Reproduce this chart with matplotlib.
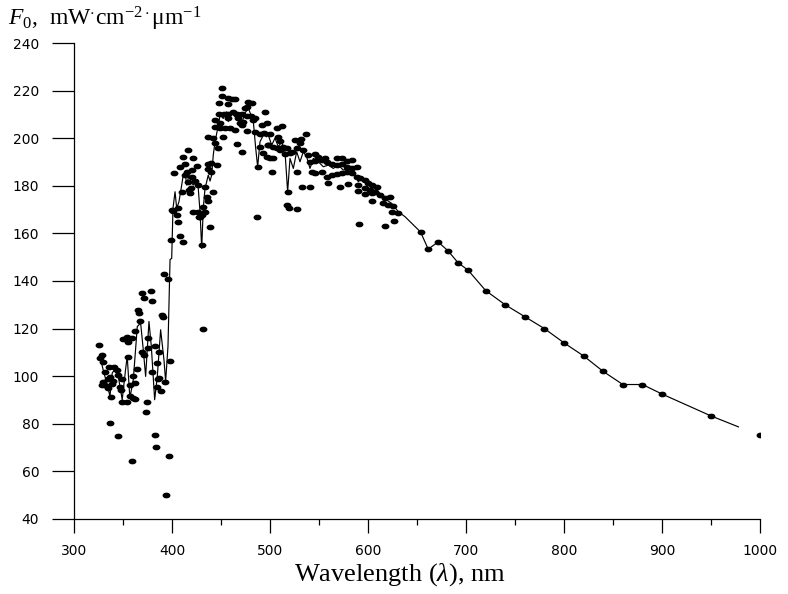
import numpy as np
import matplotlib
matplotlib.use("Agg")
import matplotlib.pyplot as plt
from matplotlib.markers import MarkerStyle
from matplotlib.transforms import Affine2D
from matplotlib.ticker import MultipleLocator

plt.rcParams['mathtext.fontset'] = 'custom'
plt.rcParams['mathtext.rm'] = 'Liberation Serif'
plt.rcParams['mathtext.it'] = 'Liberation Serif:italic'

# measured points (wavelength nm, F0)
dot_wl = [
    392, 395.6, 369.7, 378.6, 371.7, 379.6, 365.6, 366.7, 390, 391, 367.7, 362,
    326, 329, 327, 330, 350, 353.7, 355.4, 359.5, 375.2, 382.6, 375.8, 387,
    369, 371.7, 355.4, 398, 384.4, 364.6, 379.3, 335.7, 340.5, 343.5, 331.6,
    345.2, 336.7, 334.3, 348.6, 360.5, 387, 392.9, 330, 340.1, 339, 328.3,
    333.3, 335, 357, 362, 347, 348, 384.4, 386, 337.8, 357, 360.5, 362, 349.3,
    353.7, 388.4, 374.8, 373.5, 336.4, 344.6, 382.6, 383.7, 397, 358.8, 393.9,
    451.3, 451.3, 456.8, 460.9, 464.3, 448.3, 456.8, 477.9, 482, 474.5, 476.2,
    494.9, 448.3, 453.4, 457.4, 462.6, 466, 471.1, 476.2, 480.6, 457.5, 467.7,
    483, 484.7, 443.9, 449, 469.4, 471.1, 472.8, 491.5, 496.6, 443.9, 449,
    454.1, 459.2, 464.3, 476.2, 484.7, 489.8, 494.2, 436.4, 442.1, 452.3,
    443.9, 447.3, 466.4, 471.1, 489.8, 493.2, 497.6, 496.6, 487.4, 416.6,
    411.5, 421.7, 408.2, 413.3, 420.1, 425.2, 402.3, 415, 413.3, 420.1, 416.6,
    423.5, 426.8, 437, 439.8, 445.6, 437, 439.8, 433.7, 441.5, 435.4, 437,
    409.9, 418.4, 417.3, 419.4, 431.9, 433.7, 430.3, 427.9, 399.7, 401.3,
    406.4, 404.8, 405.8, 421.7, 426.8, 428.6, 438.8, 430.3, 399, 408.2, 411.5,
    486.4, 431.6,
    506.8, 511.9, 500, 508.5, 510.2, 536.4, 525.5, 531.6, 530.6, 498.3, 503.4,
    506.8, 510.2, 513.6, 517, 522.1, 527.2, 534, 539.1, 546, 549.3, 556.1,
    540.8, 546, 552.7, 557.9, 568, 573.1, 578.3, 584, 563, 568, 573.1, 578.3,
    583.4, 588.5, 500, 503.4, 515.3, 520.4, 527.2, 542.5, 545.9, 552.7, 557.9,
    563, 568, 573.1, 578.3, 583.4, 588.5, 591.8, 596.9, 600.3, 604.4, 608.9,
    590.1, 596.9, 602, 607.1, 559.5, 571.4, 579.9, 590.1, 596.9, 603.8, 612.2,
    617.3, 622.4, 615.6, 620.7, 625.8, 624.2, 630.9, 604.4, 501.7, 533, 540.8,
    518.7, 517, 519.4, 527.2, 590.8, 617.3, 626.8,
    653.6, 661.4, 671.6, 681.8, 692, 702, 720, 740, 760, 780, 800, 820, 840,
    860, 880, 900, 950, 1000,
]
dot_val = [
    143, 140.8, 135, 136, 132.7, 131.6, 127.8, 126.7, 125.7, 125, 123.2, 119,
    113, 109, 107.5, 106, 115.5, 116.3, 114.5, 116, 116, 112.7, 112, 110,
    110.3, 109, 108.2, 106.5, 105.7, 103, 101.9, 103.7, 104, 102.6, 101.9,
    100.5, 99.5, 99, 99, 100, 99.4, 97.7, 97.7, 98.1, 96.7, 96.2,
    95.9, 94.9, 96.3, 97.3, 95.6, 94.2, 95.6, 98.8, 91.4, 91.7, 90.7, 90.3, 89.3,
    89.3, 93.8, 89, 85.1, 80.5, 74.9, 75.3, 70.4, 66.6, 64.4, 50,
    221.2, 217.9, 216.8, 216.5, 216.3, 214.9, 214.2, 215.4, 214.8, 212.6, 213.2,
    210.8, 210, 210, 210, 211.1, 210, 210, 209.4, 209.4, 208.6, 208.3,
    207.6, 208.3, 207.6, 206.3, 206.3, 205.5, 207, 205.5, 206.3, 204.8, 204.4,
    204.1, 204.4, 203.4, 203, 202.5, 201.6, 202.1, 200.6, 199.9, 200.3,
    197.9, 195.8, 197.6, 194.1, 196.4, 193.6, 197.1, 192.3, 188, 195,
    192.3, 191.6, 188, 189, 186.6, 188.3, 185.2, 186, 184.5, 183.8, 181.7,
    182, 180.3, 189, 189.4, 188.7, 187.2, 186, 179.7, 177.5, 175.4, 173.6,
    177.5, 176.8, 178.2, 178.9, 171.2, 169.1, 167.7, 167, 169.8, 169.4,
    170.5, 167.7, 164.9, 168.8, 169.1, 167, 162.8, 155.1, 157.2, 158.9, 156.5,
    167, 119.8,
    204.1, 205.2, 201.6, 200.6, 198.8, 201.9, 199.1, 199.7, 197.9, 197.1, 196.4,
    195.7, 195, 196.4, 196, 194.3, 195.7, 195, 192.9, 193.2, 192.2, 191.8,
    190.1, 190.4, 190.8, 189.9, 191.8, 191.5, 190.4, 190.8, 189.3, 188.7, 189,
    188, 187.6, 188, 191.5, 191.8, 193.2, 193.6, 186, 186, 185.2, 185.7, 183.8,
    184.5, 184.8, 185.2, 186, 185.2, 183.8, 183.2, 182.5, 181, 180.3, 179.6,
    180.3, 178.9, 178.2, 177.2, 181, 179.6, 180.6, 177.8, 176.4, 176.8, 176.1,
    174.7, 175.4, 172.6, 171.9, 171.6, 169.1, 168.4, 173.6, 186, 179.7, 179.7,
    177.5, 171.9, 170.5, 170.3, 164, 163.3, 165,
    160.6, 153.4, 156.4, 152.6, 147.6, 144.6, 136, 130, 125, 120, 114, 108.5, 102,
    96.5, 96.5, 92.5, 83.3, 75.3,
]

# reference spectrum drawn as a thin line
line_wl = [
    327.2, 330.6, 334, 336.7, 339, 342.4, 345.8, 349.2, 352.6, 354.3, 357,
    360.5, 364.6, 368, 370.7, 373.1, 376.5, 378.9, 382.3, 385, 388.4, 391.8,
    393.5, 395.9, 398, 399.7, 401, 403.1, 404.8, 407.1, 409.9, 411.5, 413.3,
    415, 417.3, 419.4, 421.7, 425.2, 426.8, 428.6, 430.3, 431.9, 433.7, 435.4,
    437, 438.8, 440.5, 442.1, 443.9, 445.6, 447.3, 449, 452.3, 455.8, 457.4,
    460.9, 464.3, 467.7, 471.1, 474.5, 477.9, 480.6, 483, 485.4, 487.4, 489.8,
    493.2, 496.6, 498.3, 501.7, 505.1, 508.5, 511.9, 515.3, 518, 520.4, 523.8,
    527.2, 530.6, 534, 537.4, 540.8, 544.2, 549.3, 554.4, 559.5, 564.6, 569.7,
    574.8, 579.9, 585, 590.1, 593.5, 598.6, 603.8, 608.9, 614, 619.1, 624.2,
    630.9, 637.8, 653.6, 661.4, 671.6, 681.8, 692, 702, 720, 740, 760, 780,
    800, 820, 840, 860, 880, 900, 950, 978,
]
line_val = [
    107, 101.3, 96.4, 91.5, 101.3, 103.4, 98.5, 90.1, 102.7, 108.3, 90.8,
    98.5, 120.9, 122.3, 111.1, 99.9, 123, 112.5, 90.1, 99.9, 119.5, 106.9,
    97.8, 112.5, 149, 149.5, 170.5, 177.5, 170.5, 173.3, 180.3, 184.5, 185.9,
    180.3, 184.5, 181.7, 180.3, 181.7, 178.9, 169.1, 153.7, 170.5, 178.9, 181.7,
    184.5, 182, 184.5, 192.9, 198.5, 202, 205.5, 209.7, 208.3, 211.1, 207,
    210.6, 209, 207.6, 206.3, 210.6, 212.6, 209.7, 207, 195.8, 188, 198.5,
    201.3, 200.6, 201.3, 197.1, 200, 196.4, 198.5, 194.3, 177.5, 191.5, 187.3,
    194.3, 190.1, 194.3, 192.2, 187.3, 191.5, 190.1, 188, 188.7, 187.3, 188.7,
    186.6, 187.3, 185.9, 181.7, 183.8, 181.7, 179.6, 178.2, 176.1, 174, 172.6,
    169.1, 167, 160.6, 153.4, 156.4, 152.6, 147.6, 144.6, 136, 130, 125, 120,
    114, 108.5, 102, 96.5, 96.5, 92.5, 83.3, 78.7,
]

fig = plt.figure(figsize=(7.88, 5.94), dpi=100)
ax = fig.add_axes([0.0939, 0.1263, 0.8706, 0.8013])

ax.plot(line_wl, line_val, color='black', lw=0.85, zorder=2)
dot = MarkerStyle('o', transform=Affine2D().scale(1.5, 1.0))
ax.plot(dot_wl, dot_val, linestyle='none', marker=dot, markersize=3.1,
        color='black', zorder=3)

ax.set_xlim(300, 1000)
ax.set_ylim(40, 240)
ax.xaxis.set_major_locator(MultipleLocator(100))
ax.xaxis.set_minor_locator(MultipleLocator(50))
ax.yaxis.set_major_locator(MultipleLocator(20))

for s in ['top', 'right']:
    ax.spines[s].set_visible(False)
for s in ['left', 'bottom']:
    ax.spines[s].set_linewidth(0.9)

ax.tick_params(axis='x', which='major', direction='out', length=10, width=0.9,
               pad=8, labelsize=10)
ax.tick_params(axis='x', which='minor', direction='out', length=4.5, width=0.9)
ax.tick_params(axis='y', which='major', direction='out', length=16, width=0.9,
               pad=9, labelsize=10)
for lab in ax.get_xticklabels() + ax.get_yticklabels():
    lab.set_family('DejaVu Sans')

fig.text(400 / 788, 1 - 575 / 594, r'Wavelength ($\mathit{\lambda}$), nm',
         ha='center', va='center', fontsize=19, family='Liberation Serif')
fig.text(8 / 788, 1 - 19 / 594,
         r'$F_0$,  mW$^{\cdot}$cm$^{-2\cdot}$μm$^{-1}$',
         ha='left', va='center', fontsize=17, family='Liberation Serif')

fig.savefig('out.png', dpi=100)
